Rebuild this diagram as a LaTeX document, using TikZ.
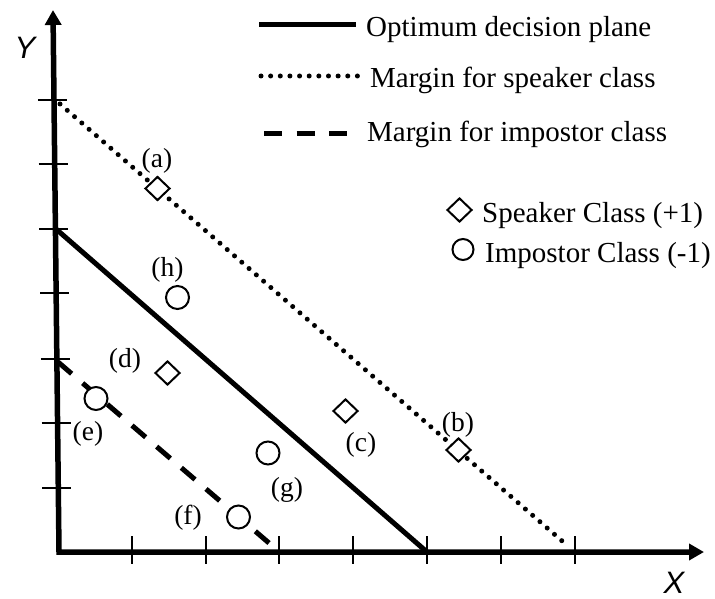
\documentclass[tikz,border=0pt]{standalone}
\usepackage{fontspec}
\setmainfont{Liberation Serif}
\newfontfamily\axisfont{Liberation Sans}
\usetikzlibrary{arrows.meta,shapes.geometric}
\begin{document}
\begin{tikzpicture}[x=1pt,y=-1pt,
  axisline/.style={line width=5.5pt, line join=miter,
    {Triangle[length=15pt,width=16pt]}-{Triangle[length=15pt,width=16pt]}},
  tickline/.style={line width=2pt},
  decision/.style={line width=5pt},
  spkmargin/.style={line width=5pt, line cap=round, dash pattern=on 0pt off 9.64pt},
  impmargin/.style={line width=5pt, dash pattern=on 18pt off 14.5pt},
  spk/.style={draw, diamond, line width=2pt, minimum width=25pt, minimum height=24pt, inner sep=0pt, fill=white},
  imp/.style={draw, circle, line width=2pt, minimum size=23pt, inner sep=0pt, fill=white},
  lbl/.style={font=\fontsize{27.5}{30}\selectfont, inner sep=0pt},
  legtext/.style={font=\fontsize{29}{33}\selectfont, anchor=base west, inner sep=0pt},
  axlabel/.style={font=\axisfont\itshape\fontsize{31}{34}\selectfont, inner sep=0pt},
]
\useasboundingbox (0,0) rectangle (715,599);

% named coordinates
\coordinate (ytop) at (53,10);
\coordinate (orig) at (59,552);
\coordinate (xend) at (704,552);
\coordinate (dpA) at (56,229);
\coordinate (dpB) at (427,552);
\coordinate (smA) at (60,104);
\coordinate (smB) at (569,547);
\coordinate (imA) at (58,362);
\coordinate (imB) at (269,543);

% plot lines
\draw[decision] (dpA) -- (dpB);
\draw[spkmargin] (smA) -- (smB);
\draw[impmargin] (imA) -- (imB);

% axes
\draw[axisline] (ytop) -- (orig) -- (xend);
\foreach \x in {132,206,279,353,427,501,575}
  \draw[tickline] (\x,536) -- (\x,564);
\foreach \y in {100,164,229,293,359,423,488}{
  \pgfmathsetmacro{\ax}{59-6*(552-\y)/542}
  \draw[tickline] (\ax-16,\y) -- (\ax+13,\y);
}
\node[axlabel] (ylab) at (25,47.5) {Y};
\node[axlabel] (xlab) at (674,583) {X};

% data points
\node[spk] (pa) at (157.5,188.5) {};
\node[spk] (pb) at (458.5,450) {};
\node[spk] (pc) at (345.5,411) {};
\node[spk] (pd) at (167.5,373) {};
\node[imp] (pe) at (96,398.5) {};
\node[imp] (pf) at (238.5,517) {};
\node[imp] (pg) at (268,453) {};
\node[imp] (ph) at (177.5,297.5) {};

% point labels
\node[lbl] (la) at (157,161) {(a)};
\node[lbl] (lb) at (458,425) {(b)};
\node[lbl] (lc) at (361,445) {(c)};
\node[lbl] (ld) at (125,361) {(d)};
\node[lbl] (le) at (88,434) {(e)};
\node[lbl] (lf) at (188,518) {(f)};
\node[lbl] (lg) at (287,490) {(g)};
\node[lbl] (lh) at (167.5,270) {(h)};

% legend
\coordinate (lgA1) at (259,25);   \coordinate (lgB1) at (356,25);
\coordinate (lgA2) at (261,76);   \coordinate (lgB2) at (358,76);
\coordinate (lgA3) at (264,133.5);\coordinate (lgB3) at (347,133.5);
\draw[decision] (lgA1) -- (lgB1);
\draw[spkmargin] (lgA2) -- (lgB2);
\draw[impmargin] (lgA3) -- (lgB3);
\node[legtext] (t1) at (366,37) {Optimum decision plane};
\node[legtext] (t2) at (370,88) {Margin for speaker class};
\node[legtext] (t3) at (367,142) {Margin for impostor class};
\node[spk] (ls) at (459.5,210) {};
\node[legtext] (t4) at (482,222) {Speaker Class (+1)};
\node[imp, minimum size=21pt] (li) at (463,249.5) {};
\node[legtext] (t5) at (485,262) {Impostor Class (-1)};
\end{tikzpicture}
\end{document}
